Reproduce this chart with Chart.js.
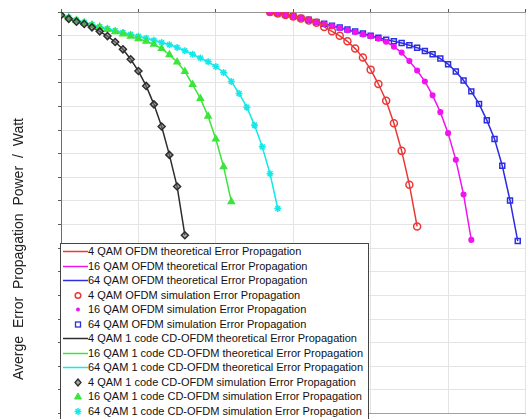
<!DOCTYPE html>
<html>
<head>
<meta charset="utf-8">
<script src="https://cdn.jsdelivr.net/npm/chart.js@4.4.1/dist/chart.umd.min.js"></script>
<style>
  body { margin: 0; background: #fff; }
  #wrap { position: relative; width: 531px; height: 419px; overflow: hidden; }
  #ytitle {
    position: absolute; left: 18px; top: 249px;
    transform: translate(-50%, -50%) rotate(-90deg);
    white-space: nowrap; font: 14px "Liberation Sans", Arial, sans-serif;
    word-spacing: 4px; color: #222;
  }
  #legend {
    position: absolute; left: 60px; top: 243px; width: 307px; height: 190px;
    border: 1px solid #444; background: #fff;
    font: 11px "Liberation Sans", Arial, sans-serif; color: #111;
  }
  .row { position: relative; height: 14.5px; line-height: 14.5px; padding-left: 27px; white-space: nowrap; }
  .row svg { position: absolute; left: 0; top: 0; }
</style>
</head>
<body>
<div id="wrap">
  <canvas id="chart" width="531" height="419"></canvas>
  <div id="ytitle">Averge Error Propagation Power / Watt</div>
  <div id="legend"></div>
</div>
<script>
// Eje x (pasos de SNR) para cada familia de curvas
const snrCD = [0, 1, 2, 3, 4, 5, 6, 7, 8, 9, 10, 11, 12, 13, 14, 15, 16, 17, 18, 19, 20, 21, 22, 23, 24, 25, 26, 27, 28];
const snrOFDM = [27, 28, 29, 30, 31, 32, 33, 34, 35, 36, 37, 38, 39, 40, 41, 42, 43, 44, 45, 46, 47, 48, 49, 50, 51, 52, 53, 54, 55, 56, 57, 58, 59];

// Valores (escala en décadas)
const qam4OFDM = [0, -0.06, -0.13, -0.19, -0.27, -0.36, -0.46, -0.63, -0.82, -1.01, -1.24, -1.55, -1.93, -2.44, -3.05, -3.76, -4.71, -5.88, -7.31, -9.08];
const qam16OFDM = [0, -0.05, -0.12, -0.19, -0.26, -0.34, -0.43, -0.51, -0.60, -0.68, -0.77, -0.85, -0.95, -1.03, -1.13, -1.26, -1.47, -1.72, -2.08, -2.48, -2.94, -3.53, -4.24, -5.13, -6.26, -7.73, -9.65];
const qam64OFDM = [0, -0.04, -0.11, -0.18, -0.25, -0.33, -0.42, -0.50, -0.58, -0.66, -0.74, -0.82, -0.91, -1.00, -1.09, -1.17, -1.24, -1.31, -1.41, -1.51, -1.65, -1.79, -1.97, -2.21, -2.52, -2.90, -3.36, -3.89, -4.58, -5.38, -6.51, -7.98, -9.70];
const qam4CD = [-0.13, -0.29, -0.41, -0.51, -0.65, -0.82, -1.02, -1.27, -1.58, -2.00, -2.50, -3.13, -3.91, -4.85, -6.05, -7.39, -9.45];
const qam16CD = [-0.13, -0.24, -0.35, -0.45, -0.55, -0.64, -0.74, -0.84, -0.93, -1.03, -1.13, -1.24, -1.37, -1.55, -1.81, -2.12, -2.52, -3.07, -3.66, -4.41, -5.38, -6.55, -8.03];
const qam64CD = [-0.13, -0.23, -0.34, -0.43, -0.53, -0.62, -0.71, -0.79, -0.87, -0.95, -1.03, -1.11, -1.20, -1.29, -1.39, -1.50, -1.64, -1.79, -1.95, -2.11, -2.31, -2.56, -2.94, -3.45, -4.03, -4.79, -5.71, -6.85, -8.32];

const xTicks = [0, 10, 20, 30, 40, 50, 60];

const RED = 'rgb(236,55,55)';
const MAGENTA = 'rgb(240,20,240)';
const BLUE = 'rgb(45,45,225)';
const BLACK = 'rgb(45,45,45)';
const GREEN = 'rgb(60,228,60)';
const CYAN = 'rgb(20,232,232)';

function pts(xs, ys) {
    return ys.map((y, i) => ({ x: xs[i], y: y }));
}

// Curva teórica: solo línea
function theo(label, xs, ys, color) {
    return { label, data: pts(xs, ys), borderColor: color, backgroundColor: color,
             borderWidth: 1.5, pointRadius: 0, showLine: true, order: 2, kind: 'line' };
}

// Curva simulada: solo marcadores
function sim(label, xs, ys, color, style, fill, r) {
    return { label, data: pts(xs, ys), borderColor: color, backgroundColor: fill,
             borderWidth: 1.5, pointRadius: r, pointStyle: style, showLine: false, order: 1, kind: style };
}

const datasets = [
    theo('4 QAM OFDM theoretical Error Propagation', snrOFDM, qam4OFDM, RED),
    theo('16 QAM OFDM theoretical Error Propagation', snrOFDM, qam16OFDM, MAGENTA),
    theo('64 QAM OFDM theoretical Error Propagation', snrOFDM, qam64OFDM, BLUE),
    sim('4 QAM OFDM simulation Error Propagation', snrOFDM, qam4OFDM, RED, 'circle', 'rgba(0,0,0,0)', 3.5),
    sim('16 QAM OFDM simulation Error Propagation', snrOFDM, qam16OFDM, MAGENTA, 'circle', MAGENTA, 2.3),
    sim('64 QAM OFDM simulation Error Propagation', snrOFDM, qam64OFDM, BLUE, 'rect', 'rgba(0,0,0,0)', 3.5),
    theo('4 QAM 1 code CD-OFDM theoretical Error Propagation', snrCD, qam4CD, BLACK),
    theo('16 QAM 1 code CD-OFDM theoretical Error Propagation', snrCD, qam16CD, GREEN),
    theo('64 QAM 1 code CD-OFDM theoretical Error Propagation', snrCD, qam64CD, CYAN),
    sim('4 QAM 1 code CD-OFDM simulation Error Propagation', snrCD, qam4CD, BLACK, 'rectRot', 'rgba(110,110,110,0.6)', 3.5),
    sim('16 QAM 1 code CD-OFDM simulation Error Propagation', snrCD, qam16CD, GREEN, 'triangle', GREEN, 3.5),
    sim('64 QAM 1 code CD-OFDM simulation Error Propagation', snrCD, qam64CD, CYAN, 'star', CYAN, 3.5)
];

new Chart(document.getElementById('chart'), {
    type: 'scatter',
    data: { datasets },
    options: {
        responsive: false,
        animation: false,
        layout: { padding: { left: 58, top: 9, right: 0, bottom: 1 } },
        plugins: { legend: { display: false }, tooltip: { enabled: false } },
        scales: {
            x: {
                type: 'linear', min: 0, max: 60,
                afterBuildTicks: (axis) => { axis.ticks = xTicks.map(v => ({ value: v })); },
                ticks: { display: false },
                grid: { color: 'rgb(228,228,228)', drawTicks: false },
                border: { color: 'rgb(160,160,160)' }
            },
            x2: {
                type: 'linear', position: 'top', min: 0, max: 60,
                afterBuildTicks: (axis) => { axis.ticks = xTicks.map(v => ({ value: v })); },
                ticks: { display: false },
                grid: { drawOnChartArea: false, tickLength: 3, tickColor: 'rgb(90,90,90)' },
                border: { color: 'rgb(150,150,150)' }
            },
            y: {
                type: 'linear', min: -17, max: 0,
                ticks: { display: false, stepSize: 1 },
                grid: { color: 'rgb(228,228,228)', tickLength: 3, tickColor: 'rgb(90,90,90)' },
                border: { color: 'rgb(110,110,110)' }
            }
        }
    }
});

// Leyenda en HTML
function symbol(ds) {
    const c = ds.borderColor;
    if (ds.kind === 'line') return `<line x1="2" y1="7.5" x2="27" y2="7.5" stroke="${c}" stroke-width="1.5"/>`;
    if (ds.kind === 'circle' && ds.pointRadius > 3) return `<circle cx="17" cy="7.5" r="2.8" fill="none" stroke="${c}" stroke-width="1.5"/>`;
    if (ds.kind === 'circle') return `<circle cx="17" cy="7.5" r="2" fill="${c}"/>`;
    if (ds.kind === 'rect') return `<rect x="14.5" y="5" width="5" height="5" fill="none" stroke="${c}" stroke-width="1.3"/>`;
    if (ds.kind === 'rectRot') return `<polygon points="17,4 20,7.5 17,11 14,7.5" fill="rgba(110,110,110,0.6)" stroke="${c}" stroke-width="1.3"/>`;
    if (ds.kind === 'triangle') return `<polygon points="17,4 20.5,10 13.5,10" fill="${c}" stroke="${c}"/>`;
    return `<g stroke="${c}" stroke-width="1.5"><line x1="17" y1="4" x2="17" y2="11"/><line x1="13.5" y1="7.5" x2="20.5" y2="7.5"/><line x1="14.5" y1="5" x2="19.5" y2="10"/><line x1="19.5" y1="5" x2="14.5" y2="10"/></g>`;
}

const legend = document.getElementById('legend');
datasets.forEach(ds => {
    const row = document.createElement('div');
    row.className = 'row';
    row.innerHTML = `<svg width="28" height="15">${symbol(ds)}</svg>${ds.label}`;
    legend.appendChild(row);
});
</script>
</body>
</html>
